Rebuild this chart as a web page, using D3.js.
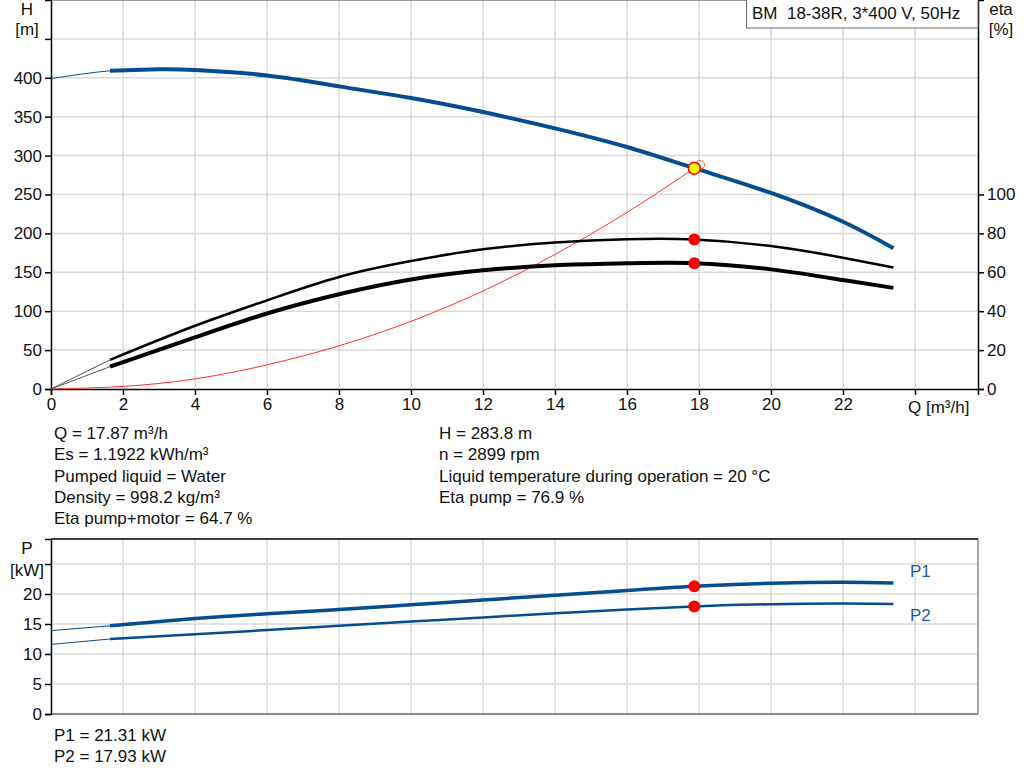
<!DOCTYPE html>
<html>
<head>
<meta charset="utf-8">
<script src="https://cdn.jsdelivr.net/npm/d3@7"></script>
<style>
  body { margin: 0; background: #fff; }
  svg { display: block; font-family: "Liberation Sans", Arial, sans-serif; }
</style>
</head>
<body>
<svg id="chart" width="1024" height="781"></svg>
<script>
// Pump curve H(Q)
const qHead = [0, 1.64, 3, 4, 6, 8, 10, 12, 14, 16, 17.87, 20, 22, 23.4];
const head = [399, 409, 411, 410, 403, 389, 374, 356, 335, 311, 283.8, 252, 215, 181];

// Efficiency curves
const qEta = [0, 1.64, 4, 6, 8, 10, 12, 14, 16, 17.87, 20, 22, 23.4];
const etaPump = [0, 15, 32.5, 45.6, 57.6, 65.8, 71.8, 75.3, 77, 76.9, 73.5, 67.5, 62.5];
const etaPumpMotor = [0, 11.5, 26.5, 38.8, 48.7, 56.3, 61, 63.6, 64.6, 64.7, 61.5, 56, 52];

// System curve
const qSys = [0, 2, 4, 6, 8, 10, 12, 14, 16, 17.87];
const hSys = [0, 3.3, 13, 31, 55.5, 87, 126, 173, 227, 283.8];

// Power curves
const qPow = [0, 1.64, 4, 6, 8, 10, 12, 14, 16, 17.87, 20, 22, 23.4];
const p1 = [13.9, 14.7, 15.9, 16.7, 17.4, 18.2, 19.0, 19.8, 20.6, 21.31, 21.8, 21.95, 21.85];
const p2 = [11.6, 12.5, 13.3, 14.0, 14.7, 15.4, 16.1, 16.8, 17.4, 17.93, 18.3, 18.4, 18.35];

// Operating point
const dutyQ = 17.87, dutyH = 283.8, dutyEta = [76.9, 64.7], dutyP = [21.31, 17.93];
const requestQ = 18.03, requestH = 288;

const qTicks = [0, 2, 4, 6, 8, 10, 12, 14, 16, 18, 20, 22];
const hTicks = [0, 50, 100, 150, 200, 250, 300, 350, 400];
const etaTicks = [0, 20, 40, 60, 80, 100];
const pTicks = [0, 5, 10, 15, 20];

const infoLeft = ["Q = 17.87 m³/h", "Es = 1.1922 kWh/m³", "Pumped liquid = Water", "Density = 998.2 kg/m³", "Eta pump+motor = 64.7 %"];
const infoRight = ["H = 283.8 m", "n = 2899 rpm", "Liquid temperature during operation = 20 °C", "Eta pump = 76.9 %"];
const infoPower = ["P1 = 21.31 kW", "P2 = 17.93 kW"];

const blue = "#054d8e";
const grid = "#dadada";
const fs = 17;
const svg = d3.select("#chart");

const x = d3.scaleLinear().domain([0, 25.75]).range([51, 978]);
const yH = d3.scaleLinear().domain([0, 500]).range([389, 0]);
const yEta = d3.scaleLinear().domain([0, 200]).range([389, 0]);
const yP = d3.scaleLinear().domain([0, 29.17]).range([714, 539]);

const zip = (xs, ys) => xs.map((v, i) => [v, ys[i]]);
const lineOf = (ys) => d3.line().x(d => x(d[0])).y(d => ys(d[1])).curve(d3.curveNatural);

const txt = (g, t, tx, ty, opts = {}) => g.append("text").attr("x", tx).attr("y", ty)
  .attr("font-size", opts.size || fs).attr("fill", opts.fill || "#111")
  .attr("text-anchor", opts.anchor || "start").text(t);

// ---------- head / efficiency chart ----------
const upper = svg.append("g");
upper.append("g").selectAll("line").data(d3.range(2, 25, 2)).join("line")
  .attr("x1", d => x(d)).attr("x2", d => x(d)).attr("y1", 0).attr("y2", 389)
  .attr("stroke", grid).attr("stroke-width", 1.5);
upper.append("g").selectAll("line").data(d3.range(50, 500, 50)).join("line")
  .attr("x1", 51).attr("x2", 978).attr("y1", d => yH(d)).attr("y2", d => yH(d))
  .attr("stroke", grid).attr("stroke-width", 1.5);
upper.append("line").attr("x1", 51).attr("x2", 978).attr("y1", 0.5).attr("y2", 0.5).attr("stroke", "#999");

// axes
upper.append("g").attr("transform", "translate(51,0)")
  .call(d3.axisLeft(yH).tickValues(d3.range(0, 500, 50)).tickSize(6)
    .tickFormat(d => hTicks.includes(d) ? d : ""));
upper.append("g").attr("transform", "translate(978,0)")
  .call(d3.axisRight(yEta).tickValues(etaTicks).tickSize(6));
upper.append("g").attr("transform", "translate(0,389)")
  .call(d3.axisBottom(x).tickValues(d3.range(0, 25, 2)).tickSize(6)
    .tickFormat(d => qTicks.includes(d) ? d : ""));
upper.selectAll(".domain").attr("stroke", "#000").attr("stroke-width", 1.5);
upper.selectAll(".tick line").attr("stroke", "#000").attr("stroke-width", 1.5);
upper.selectAll(".tick text").attr("font-size", fs).attr("fill", "#111")
  .attr("font-family", "Liberation Sans, Arial, sans-serif");

// system curve
upper.append("path").datum(zip(qSys, hSys)).attr("d", lineOf(yH))
  .attr("fill", "none").attr("stroke", "#ff3030").attr("stroke-width", 1);

// H curve
const headPts = zip(qHead, head);
upper.append("path").datum(headPts.slice(0, 3)).attr("d", lineOf(yH))
  .attr("fill", "none").attr("stroke", blue).attr("stroke-width", 1);
upper.append("path").datum(headPts.slice(1)).attr("d", lineOf(yH))
  .attr("fill", "none").attr("stroke", blue).attr("stroke-width", 4);

// eta curves
[[etaPump, 2.5], [etaPumpMotor, 4]].forEach(([vals, w]) => {
  const pts = zip(qEta, vals);
  upper.append("path").datum(pts.slice(0, 2)).attr("d", d3.line().x(d => x(d[0])).y(d => yEta(d[1])))
    .attr("fill", "none").attr("stroke", "#555").attr("stroke-width", 1);
  upper.append("path").datum(pts.slice(1)).attr("d", lineOf(yEta))
    .attr("fill", "none").attr("stroke", "#000").attr("stroke-width", w);
});

// duty points
upper.append("circle").attr("cx", x(requestQ)).attr("cy", yH(requestH)).attr("r", 4.5)
  .attr("fill", "none").attr("stroke", "#ff6060").attr("stroke-width", 1);
upper.append("circle").attr("cx", x(dutyQ)).attr("cy", yH(dutyH)).attr("r", 6)
  .attr("fill", "#ffff00").attr("stroke", "#ff0000").attr("stroke-width", 1.5);
upper.selectAll(".eta-dot").data(dutyEta).join("circle")
  .attr("cx", x(dutyQ)).attr("cy", d => yEta(d)).attr("r", 6).attr("fill", "#ff0000");

// labels
txt(upper, "H", 27, 15, { anchor: "middle" });
txt(upper, "[m]", 27, 35, { anchor: "middle" });
txt(upper, "eta", 1001, 15, { anchor: "middle" });
txt(upper, "[%]", 1001, 35, { anchor: "middle" });
txt(upper, "Q [m³/h]", 908, 413);

// title box
upper.append("rect").attr("x", 746.5).attr("y", -1).attr("width", 231.5).attr("height", 29)
  .attr("fill", "#fff").attr("stroke", "#666");
txt(upper, "BM  18-38R, 3*400 V, 50Hz", 752, 19).style("white-space", "pre");

// info text
infoLeft.forEach((t, i) => txt(svg, t, 54, 439 + i * 21.3));
infoRight.forEach((t, i) => txt(svg, t, 439, 439 + i * 21.3));

// ---------- power chart ----------
const lower = svg.append("g");
lower.append("g").selectAll("line").data(d3.range(2, 25, 2)).join("line")
  .attr("x1", d => x(d)).attr("x2", d => x(d)).attr("y1", 539).attr("y2", 714)
  .attr("stroke", grid).attr("stroke-width", 1.5);
lower.append("g").selectAll("line").data(d3.range(5, 30, 5)).join("line")
  .attr("x1", 51).attr("x2", 978).attr("y1", d => yP(d)).attr("y2", d => yP(d))
  .attr("stroke", grid).attr("stroke-width", 1.5);
lower.append("line").attr("x1", 978).attr("x2", 978).attr("y1", 539).attr("y2", 714)
  .attr("stroke", "#888").attr("stroke-width", 1.5);
lower.append("line").attr("x1", 51).attr("x2", 978).attr("y1", 539).attr("y2", 539)
  .attr("stroke", "#000").attr("stroke-width", 1.5);
lower.append("line").attr("x1", 51).attr("x2", 978).attr("y1", 714).attr("y2", 714)
  .attr("stroke", "#666").attr("stroke-width", 1.5);

lower.append("g").attr("transform", "translate(51,0)")
  .call(d3.axisLeft(yP).tickValues(d3.range(0, 30, 5)).tickSize(6)
    .tickFormat(d => pTicks.includes(d) ? d : ""));
lower.selectAll(".domain").attr("stroke", "#000").attr("stroke-width", 1.5);
lower.selectAll(".tick line").attr("stroke", "#000").attr("stroke-width", 1.5);
lower.selectAll(".tick text").attr("font-size", fs).attr("fill", "#111")
  .attr("font-family", "Liberation Sans, Arial, sans-serif");

[[p1, 3.5], [p2, 2.5]].forEach(([vals, w]) => {
  const pts = zip(qPow, vals);
  lower.append("path").datum(pts.slice(0, 2)).attr("d", d3.line().x(d => x(d[0])).y(d => yP(d[1])))
    .attr("fill", "none").attr("stroke", blue).attr("stroke-width", 1);
  lower.append("path").datum(pts.slice(1)).attr("d", lineOf(yP))
    .attr("fill", "none").attr("stroke", blue).attr("stroke-width", w);
});
lower.selectAll(".p-dot").data(dutyP).join("circle")
  .attr("cx", x(dutyQ)).attr("cy", d => yP(d)).attr("r", 6).attr("fill", "#ff0000");

txt(lower, "P1", 910, 577, { fill: "#1f5a9c" });
txt(lower, "P2", 910, 621, { fill: "#1f5a9c" });
txt(lower, "P", 27, 554, { anchor: "middle" });
txt(lower, "[kW]", 27, 576, { anchor: "middle" });
infoPower.forEach((t, i) => txt(svg, t, 54, 741 + i * 21));
</script>
</body>
</html>
